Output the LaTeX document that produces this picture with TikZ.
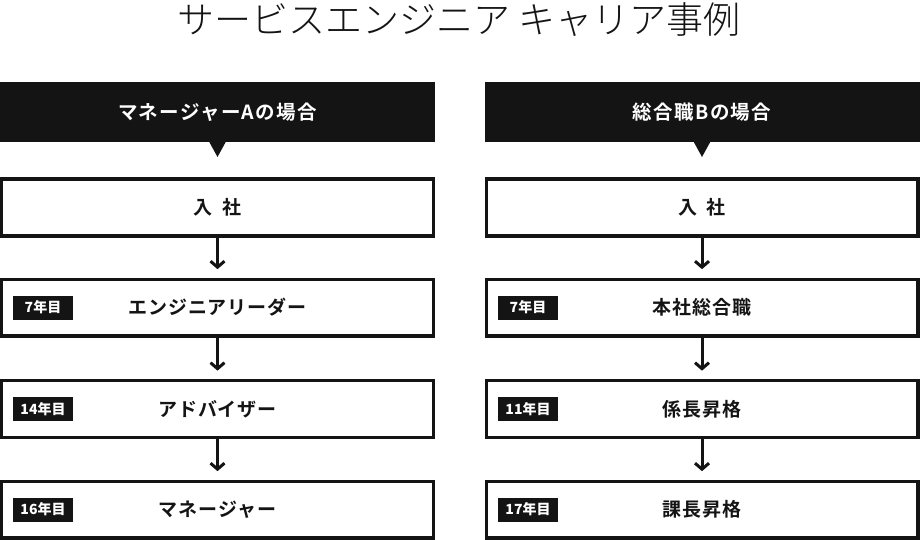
\documentclass[tikz,border=0pt]{standalone}
\usepackage{fontspec}
\setmainfont{Noto Sans CJK JP}
\newfontfamily\titlefam{Noto Sans CJK JP Light}
\newfontfamily\hdrfam{Noto Sans CJK JP Bold}[LetterSpace=7]
\newfontfamily\boxfam{Noto Sans CJK JP Bold}[LetterSpace=5]
\usetikzlibrary{arrows.meta,calc}
\definecolor{ink}{HTML}{141414}
\begin{document}
\begin{tikzpicture}[x=1pt,y=-1pt,
  titlefont/.style={font=\titlefam\fontsize{37}{40}\selectfont, text=ink, inner sep=0},
  hdr/.style={fill=ink, minimum width=435pt, minimum height=60pt, inner sep=0, outer sep=0, text=white, font=\hdrfam\fontsize{19.5}{24}\selectfont},
  stepbox/.style={draw=ink, line width=3.3pt, fill=white, minimum width=431.7pt, minimum height=56.7pt, inner sep=0, outer sep=0, text=ink, font=\boxfam\fontsize{19}{23}\selectfont},
  badge/.style={fill=ink, minimum width=60pt, minimum height=24pt, inner sep=0, outer sep=0, text=white, font=\bfseries\fontsize{14}{16}\selectfont},
  arr/.style={draw=ink, line width=3pt, -{Straight Barb[length=6pt,width=14pt]}, shorten >=10pt},
  tri/.style={fill=ink}]
\useasboundingbox (0,0) rectangle (920,540);
\fill[white] (0,0) rectangle (920,540);

\node[titlefont] (title) at (459,20) {サービスエンジニア キャリア事例};

% left column
\node[hdr] (hA) at (217.5,112) {マネージャーAの場合};
\fill[tri] ([xshift=-8.5pt,yshift=0.5pt]hA.south) -- ([xshift=8.5pt,yshift=0.5pt]hA.south) -- ([yshift=-15pt]hA.south) -- cycle;
\node[stepbox] (a1) at (217.5,207.5) {入\hspace{0.5em}社};
\node[stepbox] (a2) at (217.5,307.5) {エンジニアリーダー};
\node[stepbox] (a3) at (217.5,409) {アドバイザー};
\node[stepbox] (a4) at (217.5,509.5) {マネージャー};
\node[badge] (ba2) at (43,307.5) {7年目};
\node[badge] (ba3) at (43,409) {14年目};
\node[badge] (ba4) at (43,509.5) {16年目};
\draw[arr] (a1.south) -- (a2.north);
\draw[arr] (a2.south) -- (a3.north);
\draw[arr] (a3.south) -- (a4.north);

% right column
\node[hdr] (hB) at (702,112) {総合職Bの場合};
\fill[tri] ([xshift=-8.5pt,yshift=0.5pt]hB.south) -- ([xshift=8.5pt,yshift=0.5pt]hB.south) -- ([yshift=-15pt]hB.south) -- cycle;
\node[stepbox] (b1) at (702,207.5) {入\hspace{0.5em}社};
\node[stepbox] (b2) at (702,307.5) {本社総合職};
\node[stepbox] (b3) at (702,409) {係長昇格};
\node[stepbox] (b4) at (702,509.5) {課長昇格};
\node[badge] (bb2) at (528,307.5) {7年目};
\node[badge] (bb3) at (528,409) {11年目};
\node[badge] (bb4) at (528,509.5) {17年目};
\draw[arr] (b1.south) -- (b2.north);
\draw[arr] (b2.south) -- (b3.north);
\draw[arr] (b3.south) -- (b4.north);
\end{tikzpicture}
\end{document}
